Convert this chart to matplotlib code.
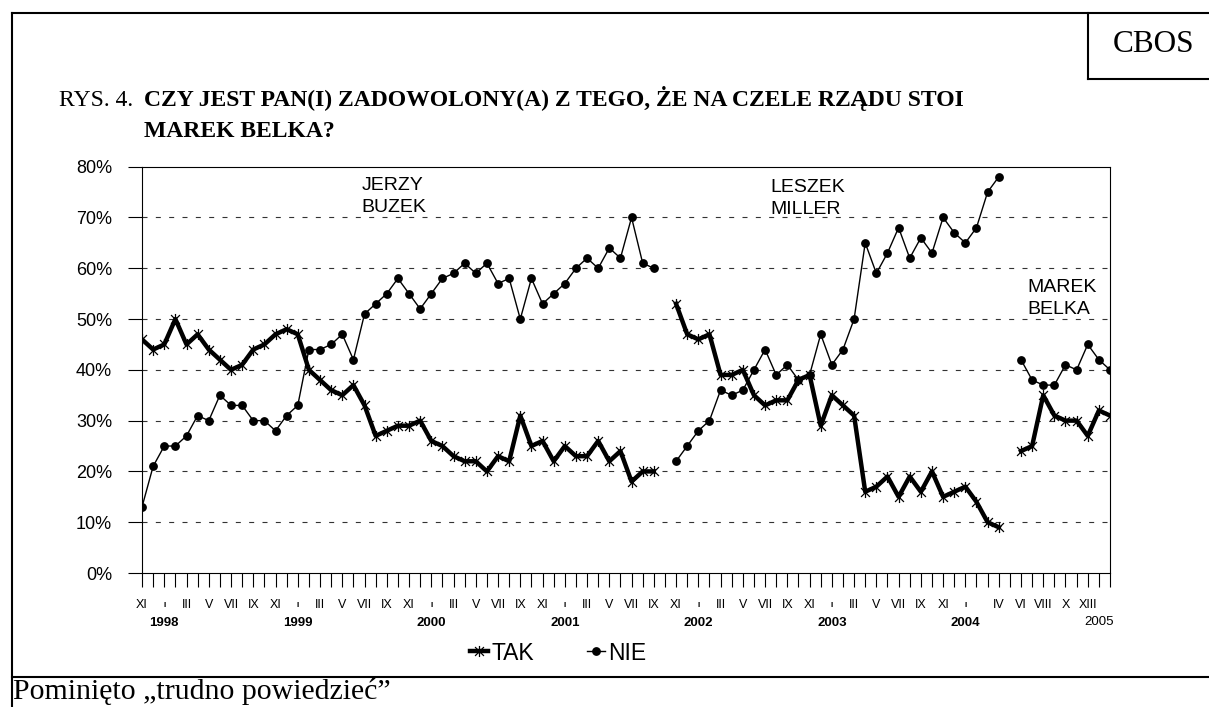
import numpy as np
import matplotlib
matplotlib.use("Agg")
import matplotlib.pyplot as plt
from matplotlib.lines import Line2D
from matplotlib.path import Path

nan = np.nan

# Odpowiedzi TAK / NIE, co miesiąc od XI 1997 (luki = zmiana premiera)
tak = [46, 44, 45, 50, 45, 47, 44, 42, 40, 41, 44, 45, 47, 48, 47, 40, 38, 36, 35, 37,
       33, 27, 28, 29, 29, 30, 26, 25, 23, 22, 22, 20, 23, 22, 31, 25, 26, 22, 25, 23,
       23, 26, 22, 24, 18, 20, 20, nan, 53, 47, 46, 47, 39, 39, 40, 35, 33, 34, 34, 38,
       39, 29, 35, 33, 31, 16, 17, 19, 15, 19, 16, 20, 15, 16, 17, 14, 10, 9, nan, 24,
       25, 35, 31, 30, 30, 27, 32, 31]
nie = [13, 21, 25, 25, 27, 31, 30, 35, 33, 33, 30, 30, 28, 31, 33, 44, 44, 45, 47, 42,
       51, 53, 55, 58, 55, 52, 55, 58, 59, 61, 59, 61, 57, 58, 50, 58, 53, 55, 57, 60,
       62, 60, 64, 62, 70, 61, 60, nan, 22, 25, 28, 30, 36, 35, 36, 40, 44, 39, 41, 38,
       39, 47, 41, 44, 50, 65, 59, 63, 68, 62, 66, 63, 70, 67, 65, 68, 75, 78, nan, 42,
       38, 37, 37, 41, 40, 45, 42, 40]

# opisy osi X (miesiące co dwa, lata pod spodem)
miesiace_idx = [0] + [2 + 12 * r + k for r in range(6) for k in (2, 4, 6, 8, 10)] + [77, 79, 81, 83, 85]
miesiace_txt = ["XI"] + ["III", "V", "VII", "IX", "XI"] * 6 + ["IV", "VI", "VIII", "X", "XIII"]
styczen_idx = [2, 14, 26, 38, 50, 62, 74]
lata = ["1998", "1999", "2000", "2001", "2002", "2003", "2004"]

premierzy = ["JERZY\nBUZEK", "LESZEK\nMILLER", "MAREK\nBELKA"]

W, H = 1209, 707
fx = lambda x: x / W
fy = lambda y: 1 - y / H

plt.rcParams['font.family'] = ['Liberation Sans', 'DejaVu Sans']

fig = plt.figure(figsize=(W / 100, H / 100), dpi=100)
ax = fig.add_axes([fx(142), fy(573), fx(1110) - fx(142), (573 - 166.7) / H])

x = np.arange(len(tak))

# marker gwiazdka: pionowa kreska + X
star = Path([(0, -1), (0, 1), (-0.8, -0.8), (0.8, 0.8), (-0.8, 0.8), (0.8, -0.8)],
            [Path.MOVETO, Path.LINETO, Path.MOVETO, Path.LINETO, Path.MOVETO, Path.LINETO])

l_tak, = ax.plot(x, tak, color='black', lw=3.2, marker=star, markersize=8,
                 markeredgewidth=0.9, markerfacecolor='none', label='TAK', zorder=3)
l_nie, = ax.plot(x, nie, color='black', lw=1.0, marker='o', markersize=5.3,
                 label='NIE', zorder=4)

ax.set_xlim(0, len(tak) - 1)
ax.set_ylim(0, 80)

# siatka przerywana
for v in range(10, 80, 10):
    ax.axhline(v, color='#333333', lw=0.8, dashes=(4.5, 7.5), zorder=1)

for s in ax.spines.values():
    s.set_linewidth(0.8)

ax.set_yticks(range(0, 81, 10))
ax.set_yticklabels([f"{v}%" for v in range(0, 81, 10)], fontsize=13)
ax.tick_params(axis='y', length=10, width=0.8, pad=11.5)

ax.set_xticks(x)
ax.set_xticklabels([])
ax.tick_params(axis='x', length=10, width=0.8)

tr = ax.get_xaxis_transform()
for i, t in zip(miesiace_idx, miesiace_txt):
    ax.text(i, -0.0861, t, transform=tr, ha='center', va='baseline', fontsize=9)
for i, t in zip(styczen_idx, lata):
    ax.text(i, -0.0835, "I", transform=tr, ha='center', va='baseline', fontsize=6, fontweight='bold')
    ax.text(i, -0.1304, t, transform=tr, ha='center', va='baseline', fontsize=9.5, fontweight='bold')
ax.text(86, -0.128, "2005", transform=tr, ha='center', va='baseline', fontsize=9.5)

# nazwiska premierów
for (px, py), txt in zip([(19.7, 75.4), (56.45, 75.1), (79.6, 55.4)], premierzy):
    a, b = txt.split("\n")
    ax.text(px, py, a, fontsize=14, va='baseline', ha='left')
    ax.text(px, py - 4.35, b, fontsize=14, va='baseline', ha='left')

fig.legend(handles=[l_tak, l_nie], loc='center', bbox_to_anchor=(fx(558), fy(653)),
           ncol=2, frameon=False, fontsize=16.5, handlelength=0.8, handletextpad=0.15,
           columnspacing=2.3, borderpad=0)

# ramka strony
kw = dict(color='black', lw=1.5, transform=fig.transFigure)
fig.add_artist(Line2D([fx(11.5), fx(11.5)], [fy(12.5), fy(707)], **kw))
fig.add_artist(Line2D([fx(11.5), fx(1209)], [fy(12.5), fy(12.5)], **kw))
fig.add_artist(Line2D([fx(1088), fx(1088)], [fy(12.5), fy(79)], **kw))
fig.add_artist(Line2D([fx(1088), fx(1209)], [fy(79), fy(79)], **kw))
fig.add_artist(Line2D([fx(11.5), fx(1209)], [fy(677), fy(677)], **kw))

serif = ['Liberation Serif', 'DejaVu Serif']
fig.text(fx(1154), fy(45), "CBOS", family=serif, fontsize=22.5, ha='center', va='center')
fig.text(fx(59), fy(106), "RYS. 4.", family=serif, fontsize=17, va='baseline')
fig.text(fx(144), fy(106), "CZY JEST PAN(I) ZADOWOLONY(A) Z TEGO, ŻE NA CZELE RZĄDU STOI",
         family=serif, fontsize=17, fontweight='bold', va='baseline')
fig.text(fx(144), fy(137), "MAREK BELKA?", family=serif, fontsize=17, fontweight='bold', va='baseline')
fig.text(fx(13), fy(699), "Pominięto „trudno powiedzieć”", family=serif, fontsize=21.5, va='baseline')

fig.savefig("out.png", dpi=100)
